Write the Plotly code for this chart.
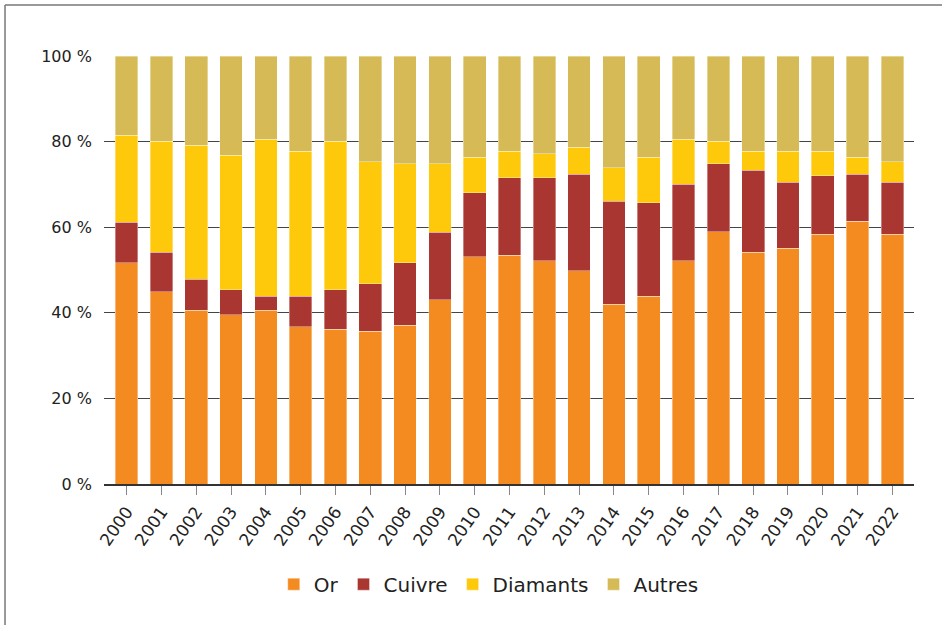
import plotly.graph_objects as go

years = [str(y) for y in range(2000, 2023)]
or_vals = [51.7, 44.9, 40.6, 39.6, 40.6, 36.7, 36.2, 35.7, 37.1, 43.0, 53.1, 53.5,
           52.2, 49.8, 42.0, 43.9, 52.2, 58.9, 54.1, 55.1, 58.4, 61.4, 58.4]
cuivre_vals = [9.5, 9.2, 7.2, 5.8, 3.3, 7.2, 9.2, 11.1, 14.6, 15.8, 15.0, 18.0,
               19.3, 22.6, 24.1, 21.8, 17.8, 15.9, 19.2, 15.4, 13.6, 11.0, 12.1]
diamants_vals = [20.3, 26.0, 31.4, 31.4, 36.7, 33.8, 34.7, 28.5, 23.1, 16.0, 8.2, 6.2,
                 5.7, 6.3, 7.8, 10.6, 10.6, 5.3, 4.4, 7.2, 5.7, 3.9, 4.8]
autres_vals = [18.5, 19.9, 20.8, 23.2, 19.4, 22.3, 19.9, 24.7, 25.2, 25.2, 23.7, 22.3,
               22.8, 21.3, 26.1, 23.7, 19.4, 19.9, 22.3, 22.3, 22.3, 23.7, 24.7]
y_ticks = [0, 20, 40, 60, 80, 100]

series = [
    ("Or", or_vals, "#F48B21"),
    ("Cuivre", cuivre_vals, "#A93631"),
    ("Diamants", diamants_vals, "#FEC90B"),
    ("Autres", autres_vals, "#D6BA55"),
]

fig = go.Figure()
for name, vals, color in series:
    fig.add_trace(go.Bar(
        x=years, y=vals, name=name,
        marker=dict(color=color, line=dict(color="rgba(255,255,255,0.45)", width=0.8)),
    ))

FONT = "DejaVu Sans, sans-serif"
fig.update_layout(
    barmode="stack",
    bargap=0.35,
    width=942, height=625,
    margin=dict(l=104, r=28, t=56, b=141),
    paper_bgcolor="white",
    plot_bgcolor="white",
    font=dict(family=FONT, color="#222", size=16),
    showlegend=True,
    legend=dict(orientation="h", x=0.475, xanchor="center", y=-0.234, yanchor="middle",
                font=dict(size=20, color="#222"),
                traceorder="normal", itemwidth=30),
    xaxis=dict(
        type="category",
        range=[-0.65, 22.62],
        tickangle=-55,
        tickfont=dict(size=17, color="#222"),
        ticks="outside", ticklen=9, tickcolor="#888", tickwidth=1,
        showline=True, linecolor="#333", linewidth=2,
        showgrid=False,
    ),
    yaxis=dict(
        range=[0, 100],
        tickvals=y_ticks,
        ticktext=[f"{v} %" for v in y_ticks],
        tickfont=dict(size=16, color="#222"),
        showgrid=True, gridcolor="#444", gridwidth=1,
        zeroline=False,
        ticks="", ticklabelstandoff=11,
    ),
    shapes=[
        dict(type="line", xref="paper", yref="paper", x0=-0.1222, x1=-0.1222,
             y0=1.1192, y1=-0.4, line=dict(color="#777", width=1.5)),
        dict(type="line", xref="paper", yref="paper", x0=-0.1222, x1=1.1,
             y0=1.1192, y1=1.1192, line=dict(color="#777", width=1.5)),
    ],
)

fig.write_html("out.html", config={"displayModeBar": False},
               post_script="document.body.style.margin='0px';")
